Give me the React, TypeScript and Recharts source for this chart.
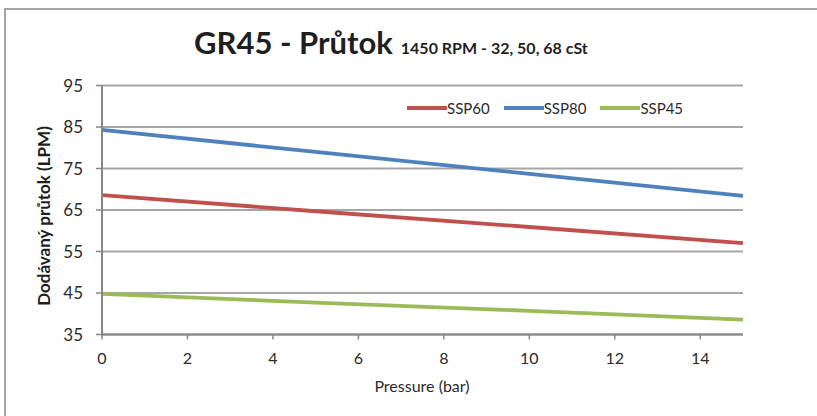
import React from "react";
import { LineChart, Line, XAxis, YAxis, CartesianGrid } from "recharts";

const pressure = [0, 5, 10, 15];
const ssp60 = [68.6, 64.7, 60.9, 57.0];
const ssp80 = [84.3, 79.0, 73.7, 68.4];
const ssp45 = [44.8, 42.7, 40.7, 38.6];
const xTicks = [0, 2, 4, 6, 8, 10, 12, 14];
const yTicks = [35, 45, 55, 65, 75, 85, 95];

const seriesNames = ["SSP60", "SSP80", "SSP45"];
const seriesKeys = ["ssp60", "ssp80", "ssp45"];
const seriesColors = ["#C0504D", "#4F81BD", "#9BBB59"];

const data = pressure.map((p, i) => ({
  p,
  ssp60: ssp60[i],
  ssp80: ssp80[i],
  ssp45: ssp45[i],
}));

const FONT = "Lato, 'Open Sans', sans-serif";

export default function App() {
  return (
    <div style={{ position: "absolute", left: 0, top: 0, width: 817, height: 416, background: "#fff", overflow: "hidden", fontFamily: FONT }}>
      <div style={{ position: "absolute", left: 4, top: 8, width: 830, height: 420, borderTop: "2px solid #A5A5A5", borderLeft: "2px solid #A5A5A5" }} />
      <LineChart
        width={817}
        height={416}
        data={data}
        margin={{ top: 85.5, right: 74, bottom: 51.5, left: 0 }}
      >
        <CartesianGrid vertical={false} stroke="#A6A6A6" strokeWidth={1.8} />
        <XAxis
          dataKey="p"
          type="number"
          domain={[0, 15]}
          ticks={xTicks}
          height={30}
          tickSize={5}
          tickMargin={13}
          axisLine={{ stroke: "#868686", strokeWidth: 2 }}
          tickLine={{ stroke: "#868686", strokeWidth: 1.5 }}
          tick={{ fill: "#2b2b2b", fontSize: 16, fontFamily: FONT }}
        />
        <YAxis
          type="number"
          domain={[35, 95]}
          ticks={yTicks}
          width={102}
          tickSize={6}
          tickMargin={13}
          axisLine={{ stroke: "#868686", strokeWidth: 2 }}
          tickLine={{ stroke: "#868686", strokeWidth: 1.5 }}
          tick={{ fill: "#2b2b2b", fontSize: 17, fontFamily: FONT }}
        />
        {seriesKeys.map((k, i) => (
          <Line
            key={k}
            dataKey={k}
            name={seriesNames[i]}
            stroke={seriesColors[i]}
            strokeWidth={3.8}
            dot={false}
            activeDot={false}
            isAnimationActive={false}
          />
        ))}
      </LineChart>
      <div style={{ position: "absolute", left: 194, top: 23, whiteSpace: "nowrap", color: "#1f1f1f", fontWeight: 700 }}>
        <span style={{ fontSize: 31 }}>GR45 - Průtok</span>
        <span style={{ fontSize: 16, marginLeft: 8 }}>1450 RPM - 32, 50, 68 cSt</span>
      </div>
      <div style={{ position: "absolute", left: 407, top: 99, display: "flex", alignItems: "center", fontSize: 15, color: "#2b2b2b", whiteSpace: "nowrap" }}>
        {seriesNames.map((n, i) => (
          <div key={n} style={{ display: "flex", alignItems: "center", marginRight: 14 }}>
            <div style={{ width: 40, height: 4, background: seriesColors[i] }} />
            <span>{n}</span>
          </div>
        ))}
      </div>
      <div style={{ position: "absolute", left: 422, top: 385, transform: "translate(-50%, -50%)", fontSize: 16, color: "#2b2b2b", whiteSpace: "nowrap" }}>
        Pressure (bar)
      </div>
      <div style={{ position: "absolute", left: 43, top: 216, transform: "translate(-50%, -50%) rotate(-90deg)", fontSize: 17, fontWeight: 700, color: "#1f1f1f", whiteSpace: "nowrap" }}>
        Dodávaný průtok (LPM)
      </div>
    </div>
  );
}
